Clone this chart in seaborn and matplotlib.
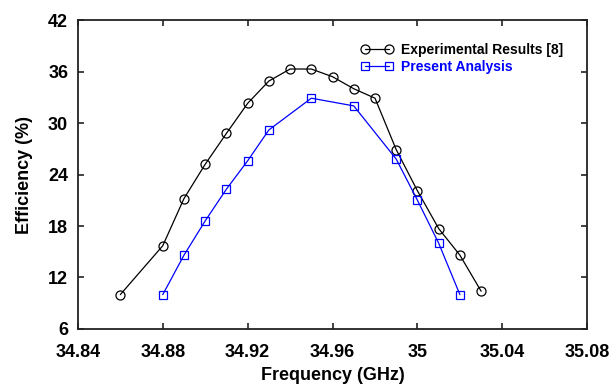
import matplotlib
matplotlib.use("Agg")
import matplotlib.pyplot as plt
import seaborn as sns
import pandas as pd

exp_freq = [34.86, 34.88, 34.89, 34.90, 34.91, 34.92, 34.93, 34.94, 34.95, 34.96,
            34.97, 34.98, 34.99, 35.00, 35.01, 35.02, 35.03]
exp_eff = [10.0, 15.7, 21.2, 25.2, 28.8, 32.3, 34.9, 36.3, 36.3, 35.4,
           34.0, 32.9, 26.9, 22.1, 17.7, 14.6, 10.4]
pa_freq = [34.88, 34.89, 34.90, 34.91, 34.92, 34.93, 34.95, 34.97, 34.99, 35.00, 35.01, 35.02]
pa_eff = [10.0, 14.6, 18.6, 22.3, 25.6, 29.2, 32.9, 32.0, 25.8, 21.0, 16.0, 10.0]
x_ticks = [34.84, 34.88, 34.92, 34.96, 35.00, 35.04, 35.08]
x_tick_labels = ["34.84", "34.88", "34.92", "34.96", "35", "35.04", "35.08"]
y_ticks = [6, 12, 18, 24, 30, 36, 42]

sns.set_theme(style="ticks")
plt.rcParams['font.family'] = ['Liberation Sans', 'DejaVu Sans']
plt.rcParams['font.weight'] = 'bold'
plt.rcParams['axes.labelcolor'] = 'black'

fig = plt.figure(figsize=(6.13, 3.87), dpi=100)
ax = fig.add_axes([0.127, 0.150, 0.831, 0.798])

df_exp = pd.DataFrame({"f": exp_freq, "e": exp_eff})
df_pa = pd.DataFrame({"f": pa_freq, "e": pa_eff})

sns.lineplot(data=df_exp, x="f", y="e", ax=ax, color="black", lw=0.9,
             marker="o", markersize=6.5, markerfacecolor="none",
             markeredgecolor="black", markeredgewidth=0.9,
             label="Experimental Results [8]")
sns.lineplot(data=df_pa, x="f", y="e", ax=ax, color="#0000ff", lw=0.9,
             marker="s", markersize=5.5, markerfacecolor="none",
             markeredgecolor="#0000ff", markeredgewidth=0.9,
             label="Present Analysis")

ax.set_xlim(34.84, 35.08)
ax.set_ylim(6, 42)
ax.set_xticks(x_ticks)
ax.set_xticklabels(x_tick_labels)
ax.set_yticks(y_ticks)
ax.tick_params(direction="in", length=4, width=1.2, top=True, right=True,
               labeltop=False, labelright=False, labelsize=13, colors="#222222",
               labelcolor="black")
ax.tick_params(axis="x", pad=11)
ax.tick_params(axis="y", pad=7)
for lab in ax.get_xticklabels() + ax.get_yticklabels():
    lab.set_fontweight("bold")
for sp in ax.spines.values():
    sp.set_linewidth(1.3)
    sp.set_color("#222222")
    sp.set_visible(True)

ax.set_xlabel("Frequency (GHz)", fontsize=13, fontweight="bold", labelpad=4, color="black")
ax.set_ylabel("Efficiency (%)", fontsize=13, fontweight="bold", labelpad=11, color="black")

leg = ax.legend(loc="upper left", bbox_to_anchor=(0.545, 0.945), frameon=False,
                fontsize=10, handlelength=2.3, handletextpad=0.6, numpoints=2,
                labelspacing=0.25, borderaxespad=0)
for txt, c in zip(leg.get_texts(), ["black", "#0000ff"]):
    txt.set_color(c)
    txt.set_fontweight("bold")

fig.savefig("out.png", dpi=100)
